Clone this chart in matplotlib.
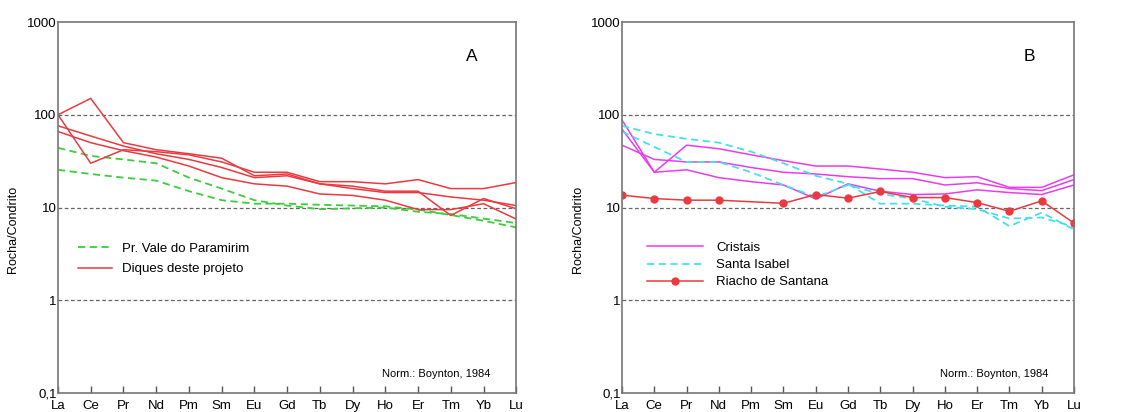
import numpy as np
import matplotlib
matplotlib.use("Agg")
import matplotlib.pyplot as plt

plt.rcParams['font.family'] = ['Liberation Sans', 'DejaVu Sans']

# REE order (chondrite-normalised, Boynton 1984)
elements = ["La", "Ce", "Pr", "Nd", "Pm", "Sm", "Eu", "Gd", "Tb", "Dy", "Ho", "Er", "Tm", "Yb", "Lu"]
ytick_vals = [0.1, 1, 10, 100, 1000]
ytick_labels = ["0,1", "1", "10", "100", "1000"]

# panel A - Pr. Vale do Paramirim (green dashed)
paramirim_1 = [44, 36, 33, 30, 21, 16, 12, 10.5, 9.6, 9.8, 10, 9.0, 8.5, 7.6, 6.8]
paramirim_2 = [25.5, 23, 21, 19.5, 15, 12, 11, 11, 10.7, 10.5, 10.3, 9.5, 8.3, 7.2, 6.1]

# panel A - Diques deste projeto (red)
diques_1 = [100, 150, 50, 42, 38, 34, 22, 23, 18, 17, 15, 15, 8.2, 12.5, 9.7]
diques_2 = [100, 30, 42, 40, 37, 31, 24, 24, 19, 19, 18, 20, 16, 16, 18.6]
diques_3 = [76, 59, 46, 38, 33, 27, 21, 22, 18, 16, 14.5, 14.5, 13, 12, 10.5]
diques_4 = [66, 50, 41, 35, 28, 21, 18, 17, 14, 13.5, 12, 9.5, 9.5, 11, 7.5]

# panel B - Cristais (magenta)
cristais_1 = [88, 24, 47, 43, 37, 32, 28, 28, 26, 24, 21, 21.5, 16.5, 16.5, 22.5]
cristais_2 = [47, 33, 31, 31, 27, 24, 23, 21.5, 20.5, 20.5, 17.5, 18.5, 16, 15.2, 20]
cristais_3 = [70, 24, 25.5, 21, 19, 17.5, 12.4, 18, 15, 13.8, 14, 15.5, 14.5, 13.8, 17.5]

# panel B - Santa Isabel (cyan dashed)
isabel_1 = [76, 62, 55, 50, 40, 30, 22, 18, 11, 11, 10.5, 10.2, 6.3, 8.8, 5.8]
isabel_2 = [66, 45, 31, 31, 24, 17.5, 13, 17.5, 14, 12.5, 10.2, 9.6, 7.6, 7.8, 6.2]

# panel B - Riacho de Santana (red with dots), no Pm value
riacho = [13.6, 12.5, 12, 12, np.nan, 11.1, 13.8, 12.6, 14.9, 12.8, 12.8, 11.3, 9.1, 11.8, 6.8]

RED = "#ea3a3f"
GREEN = "#3ccc3c"
MAGENTA = "#ea3cea"
CYAN = "#45e0ee"

x = np.arange(len(elements))


def setup_axes(ax, letter, ylab_x):
    ax.set_yscale("log")
    ax.set_ylim(0.1, 1000)
    ax.set_xlim(0, len(elements) - 1)
    for v in [1, 10, 100]:
        ax.axhline(v, color="#666666", lw=0.9, ls=(0, (3, 2)), zorder=0)
    ax.set_yticks(ytick_vals)
    ax.set_yticklabels(ytick_labels)
    ax.yaxis.set_minor_locator(matplotlib.ticker.NullLocator())
    ax.tick_params(axis="y", length=0, pad=1, labelsize=9.5)
    ax.set_xticks(x)
    ax.set_xticklabels(elements)
    ax.tick_params(axis="x", direction="in", length=5, width=1, color="#555555", pad=5, labelsize=9.5)
    for s in ax.spines.values():
        s.set_color("#777777")
        s.set_linewidth(1.2)
    ax.set_ylabel("Rocha/Condrito", fontsize=9)
    ax.yaxis.set_label_coords(ylab_x, 0.44)
    ax.text(0.902, 0.906, letter, transform=ax.transAxes, fontsize=12.5, ha="center", va="center")
    ax.text(0.943, 0.05, "Norm.: Boynton, 1984", transform=ax.transAxes, fontsize=8, ha="right", va="center")


fig = plt.figure(figsize=(11.26, 4.12), dpi=100)
axA = fig.add_axes([0.0515, 0.046, 0.407, 0.9006])
axB = fig.add_axes([0.5524, 0.046, 0.4014, 0.9006])

# ---- panel A ----
setup_axes(axA, "A", -0.084)
for i, s in enumerate([paramirim_1, paramirim_2]):
    axA.plot(x, s, color=GREEN, lw=1.3, ls=(0, (4, 2.5)),
             label="Pr. Vale do Paramirim" if i == 0 else "_nolegend_")
for i, s in enumerate([diques_1, diques_2, diques_3, diques_4]):
    axA.plot(x, s, color=RED, lw=1.1,
             label="Diques deste projeto" if i == 0 else "_nolegend_")
axA.legend(frameon=False, loc="upper left", bbox_to_anchor=(0.017, 0.437),
           fontsize=9.5, handlelength=2.6, handletextpad=0.75, labelspacing=0.6)

# ---- panel B ----
setup_axes(axB, "B", -0.083)
for i, s in enumerate([cristais_1, cristais_2, cristais_3]):
    axB.plot(x, s, color=MAGENTA, lw=1.1,
             label="Cristais" if i == 0 else "_nolegend_")
for i, s in enumerate([isabel_1, isabel_2]):
    axB.plot(x, s, color=CYAN, lw=1.3, ls=(0, (4, 2.5)),
             label="Santa Isabel" if i == 0 else "_nolegend_")
r = np.array(riacho)
ok = ~np.isnan(r)
axB.plot(x[ok], r[ok], color=RED, lw=1.1, marker="o", ms=5, label="Riacho de Santana")
axB.legend(frameon=False, loc="upper left", bbox_to_anchor=(0.03, 0.44),
           fontsize=9.5, handlelength=4.2, handletextpad=1.0, labelspacing=0.38)

fig.savefig("out.png", dpi=100)
